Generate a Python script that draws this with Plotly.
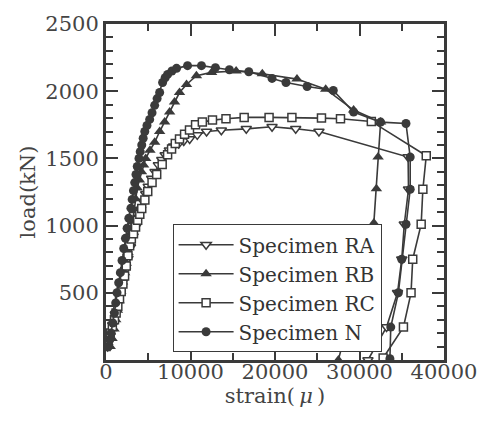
import plotly.graph_objects as go

# ---- data (strain in micro-strain, load in kN) ----
RA_x = [200, 500, 800, 1100, 1400, 1700, 2000, 2300, 2600, 2900, 3200, 3500, 3800, 4100, 4400, 4700,
        5000, 5400, 5800, 6200, 6600, 7000, 7500, 8000, 8600, 9200, 9900, 10800, 11900, 13650, 16600,
        19650, 22450, 25200, 35750, 35800, 35300, 35000, 34500, 33200, 31000]
RA_y = [100, 180, 260, 340, 420, 500, 585, 670, 755, 840, 920, 990, 1060, 1120, 1180, 1235,
        1290, 1350, 1400, 1450, 1490, 1525, 1560, 1590, 1610, 1630, 1645, 1675, 1700, 1710, 1720,
        1735, 1720, 1700, 1510, 1270, 1010, 750, 500, 245, 0]

RB_x = [500, 720, 950, 1150, 1350, 1550, 1750, 1950, 2200, 2400, 2600, 2800, 3000, 3150, 3300, 3500,
        3700, 3950, 4200, 4450, 4700, 5200, 5760, 6350, 6940, 7530, 8110, 8700, 9530, 10700, 12500,
        15400, 18500, 22600, 26000, 29300, 32500, 32200, 32000, 31700, 27500]
RB_y = [100, 160, 230, 300, 370, 440, 510, 580, 650, 720, 800, 870, 950, 1030, 1110, 1200,
        1280, 1340, 1400, 1450, 1500, 1560, 1620, 1700, 1770, 1845, 1920, 1990, 2050, 2115, 2140,
        2150, 2130, 2090, 2015, 1860, 1770, 1510, 1275, 1020, 0]

RC_x = [0, 250, 500, 750, 1000, 1200, 1400, 1600, 1800, 2000, 2200, 2400, 2600, 2800, 3000, 3250,
        3500, 3750, 4000, 4230, 4600, 4940, 5450, 6000, 6650, 7290, 7760, 8200, 8700, 9300, 9880,
        10600, 11400, 12600, 14200, 16350, 19300, 22000, 25500, 27750, 31400, 37900, 37500, 37300,
        36300, 36100, 35200, 32800]
RC_y = [100, 150, 200, 250, 300, 350, 400, 455, 510, 565, 625, 700, 775, 850, 900, 940,
        990, 1040, 1085, 1128, 1190, 1254, 1320, 1380, 1455, 1527, 1570, 1610, 1645, 1680, 1711,
        1750, 1770, 1785, 1795, 1805, 1805, 1805, 1800, 1795, 1775, 1520, 1270, 1010,
        750, 500, 245, 15]

N_x = [300, 450, 600, 800, 1000, 1150, 1300, 1500, 1700, 1900, 2100, 2300, 2500, 2700, 2950, 3100,
       3250, 3400, 3550, 3700, 3900, 4050, 4230, 4400, 4590, 4850, 5170, 5450, 5760, 6050, 6350,
       6700, 7000, 7290, 7800, 8350, 9650, 11300, 12950, 14600, 16900, 19650, 21300, 23800, 26900,
       29300, 32500, 35500, 36000, 36000, 35500, 35000, 34600, 33700, 33600]
N_y = [100, 150, 200, 275, 350, 425, 500, 575, 650, 740, 830, 905, 980, 1055, 1130, 1195,
       1260, 1320, 1380, 1440, 1500, 1550, 1600, 1650, 1700, 1745, 1790, 1840, 1895, 1945, 1990,
       2065, 2100, 2125, 2150, 2170, 2190, 2190, 2175, 2160, 2145, 2095, 2065, 2035, 2005,
       1845, 1770, 1760, 1510, 1270, 1010, 750, 500, 245, 10]

names = ["Specimen RA", "Specimen RB", "Specimen RC", "Specimen N"]
x_ticks = [0, 10000, 20000, 30000, 40000]
y_ticks = [500, 1000, 1500, 2000, 2500]

INK = "#3a3a3a"
FONT = "DejaVu Serif"

fig = go.Figure()
series = [
    (RA_x, RA_y, names[0], dict(symbol="triangle-down", size=9, color="white", line=dict(color=INK, width=1.5))),
    (RB_x, RB_y, names[1], dict(symbol="triangle-up", size=10, color=INK, line=dict(color=INK, width=0))),
    (RC_x, RC_y, names[2], dict(symbol="square", size=8, color="white", line=dict(color=INK, width=1.5))),
    (N_x, N_y, names[3], dict(symbol="circle", size=9, color=INK, line=dict(color=INK, width=0))),
]
for xs, ys, nm, mk in series:
    fig.add_trace(go.Scatter(x=xs, y=ys, name=nm, mode="lines+markers",
                             line=dict(color=INK, width=1.6), marker=mk))

axis_common = dict(showline=True, linewidth=3, linecolor=INK, mirror="allticks",
                   ticks="inside", ticklen=12, tickwidth=1.5, tickcolor=INK,
                   showgrid=False, zeroline=False,
                   tickfont=dict(family=FONT, size=21, color="#444"))

fig.update_xaxes(range=[0, 40000], tickmode="array", tickvals=x_ticks,
                 ticktext=[str(v) for v in x_ticks],
                 ticklabelstandoff=-9,
                 minor=dict(tickmode="linear", tick0=0, dtick=5000, ticks="inside",
                            ticklen=7, tickwidth=1.5, tickcolor=INK),
                 title=dict(text="strain(\u2009<i>μ</i>\u2009)", font=dict(family=FONT, size=21, color="#444"),
                            standoff=4),
                 **axis_common)
fig.update_yaxes(range=[0, 2500], tickmode="array", tickvals=y_ticks,
                 ticktext=[str(v) for v in y_ticks],
                 minor=dict(tickmode="linear", tick0=0, dtick=100, ticks="inside",
                            ticklen=7, tickwidth=1.5, tickcolor=INK),
                 title=dict(text="load(kN)", font=dict(family=FONT, size=21, color="#444"),
                            standoff=4),
                 **axis_common)

# drop shadow behind the legend box
fig.add_shape(type="rect", xref="paper", yref="paper",
              x0=0.207, x1=0.809, y0=0.041, y1=0.395,
              fillcolor=INK, line=dict(width=0), layer="above")

fig.update_layout(
    width=489, height=433,
    margin=dict(l=106, r=43, t=21, b=73),
    paper_bgcolor="white", plot_bgcolor="white",
    legend=dict(x=0.197, y=0.404, xanchor="left", yanchor="top",
                bgcolor="white", bordercolor=INK, borderwidth=1,
                font=dict(family=FONT, size=20, color="#333"),
                itemwidth=55, tracegroupgap=0),
    showlegend=True,
)

fig.write_html("out.html")
